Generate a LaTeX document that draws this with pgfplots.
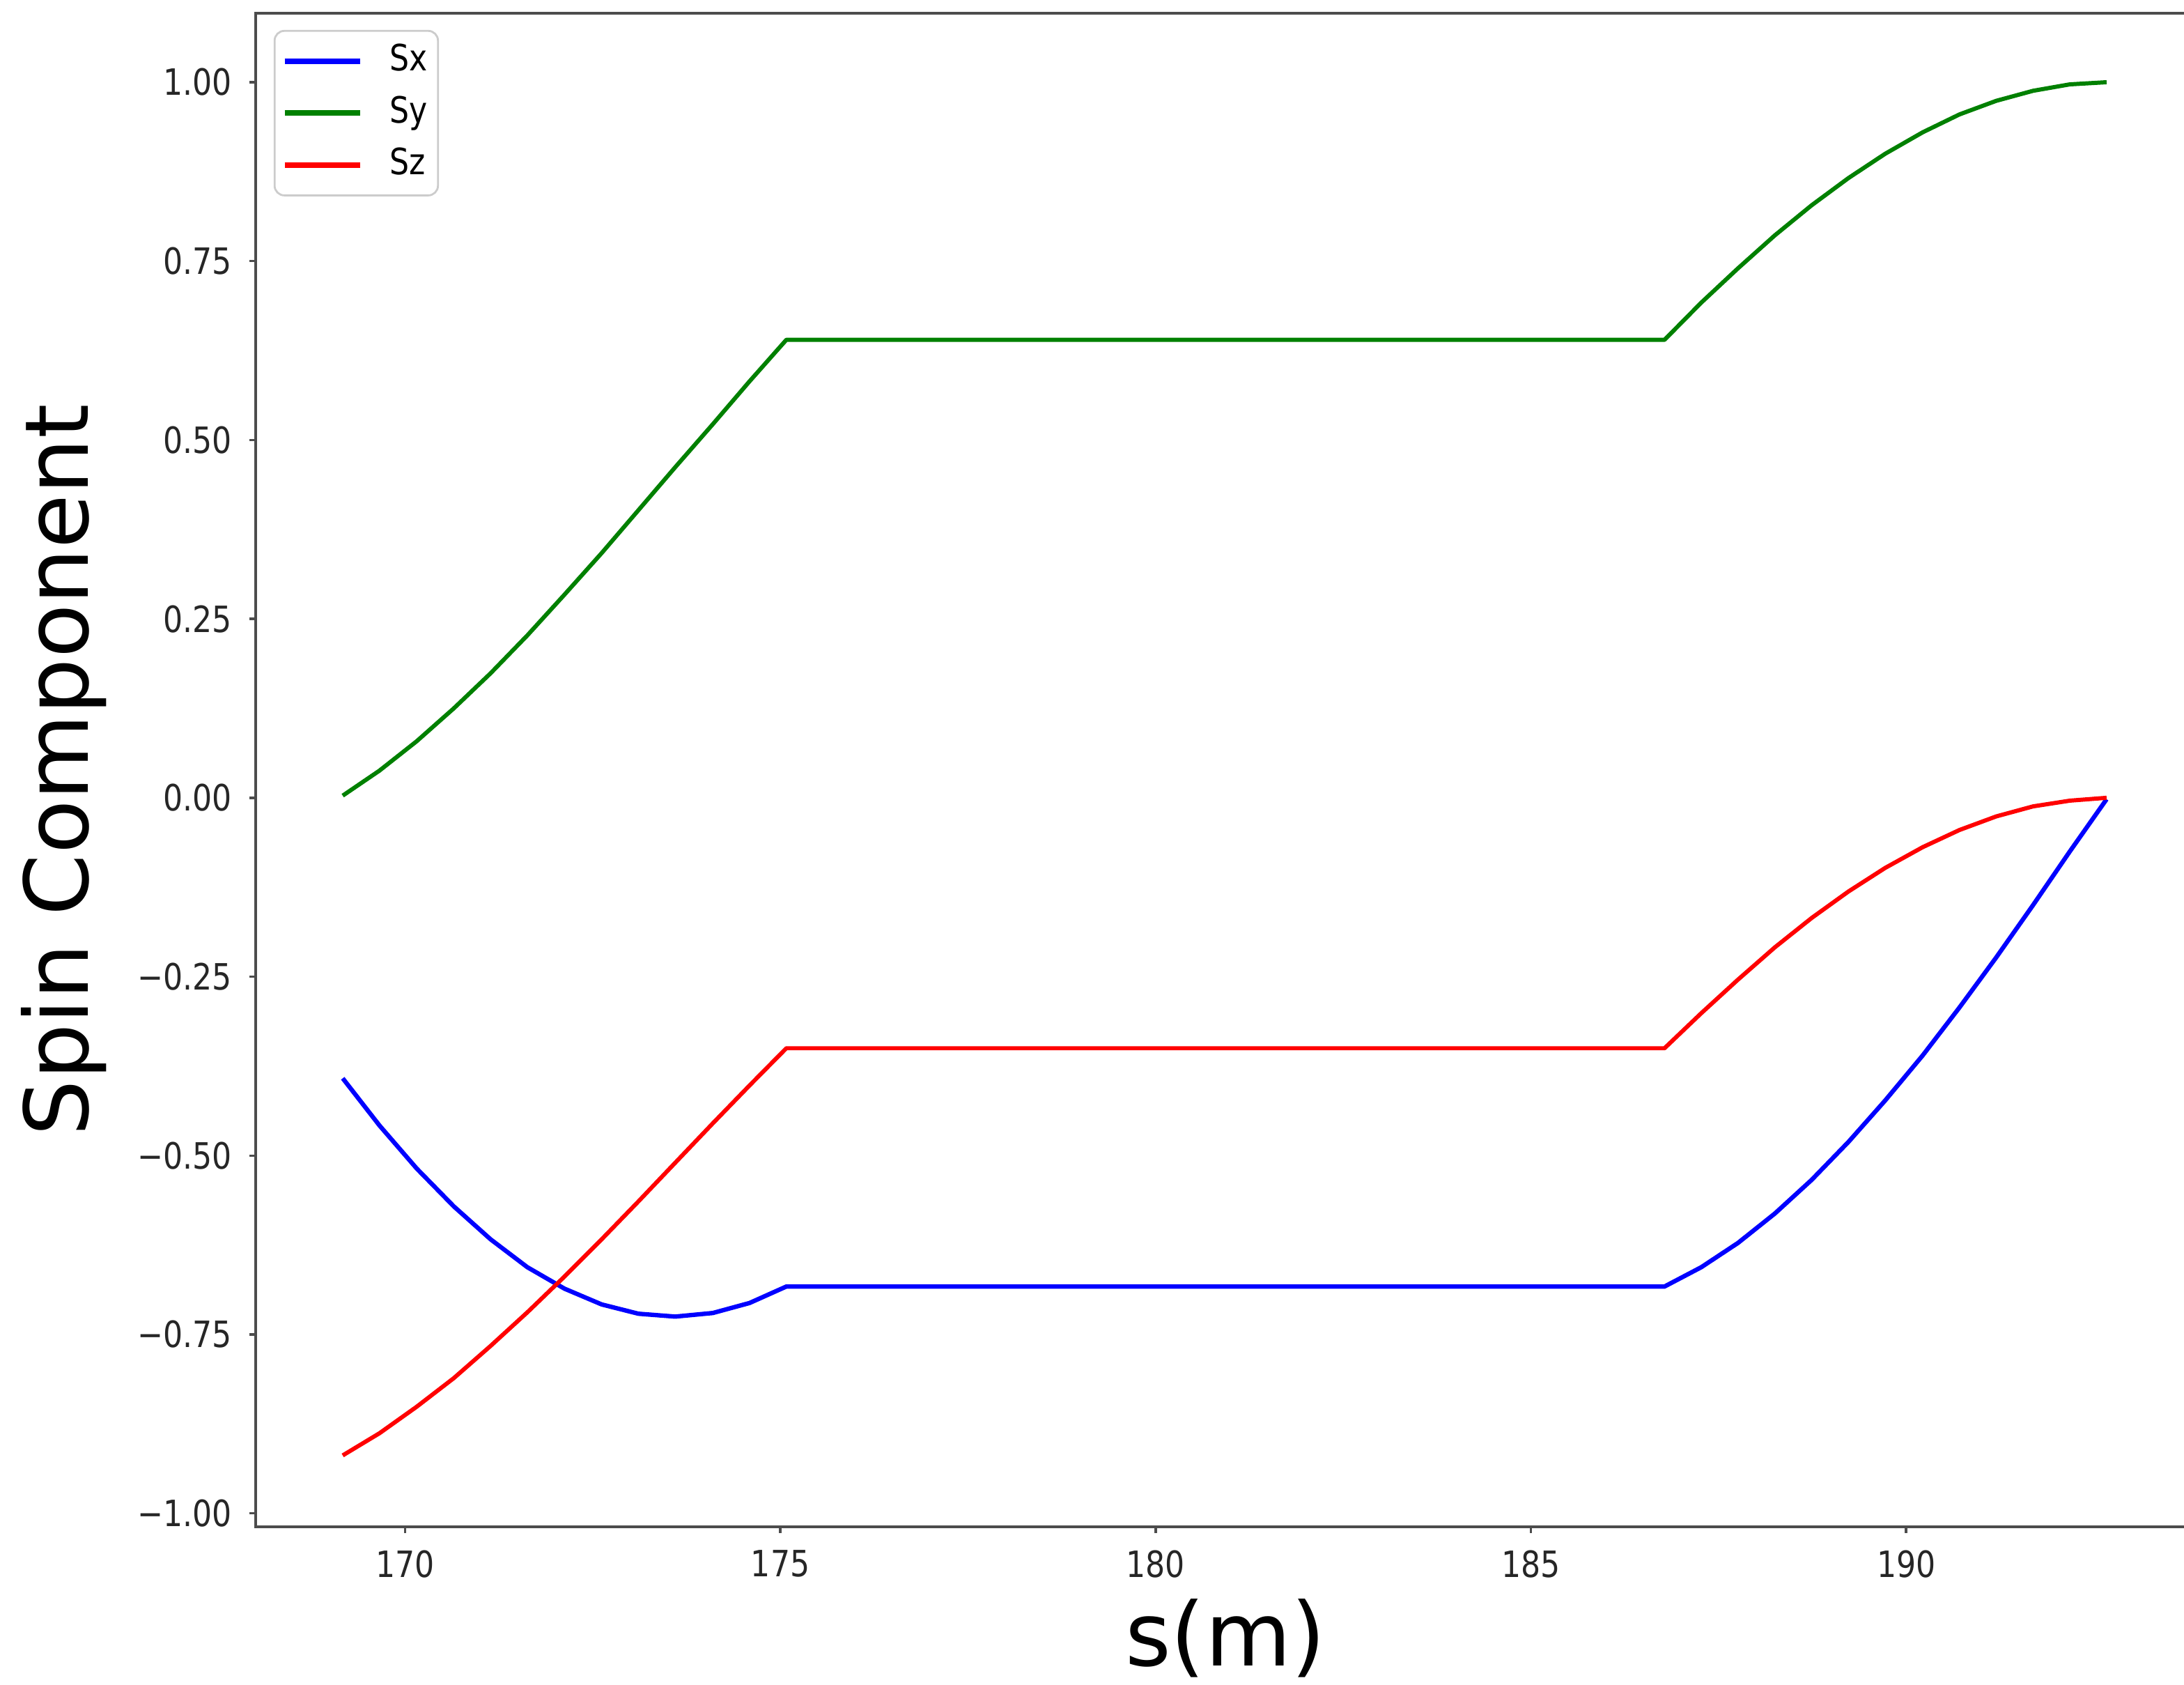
\documentclass[border=0pt]{standalone}
\usepackage{pgfplots}
\pgfplotsset{compat=1.18}
\usepackage{fontspec}
\setmainfont{DejaVu Sans}
\usepackage{graphicx}
\newcommand{\tl}[1]{\scalebox{0.85}[1]{#1}}
\definecolor{mgreen}{rgb}{0,0.5,0}
\begin{document}
\begin{tikzpicture}
\begin{axis}[
  scale only axis, width=13.925cm, height=10.863cm,
  xmin=168.009, xmax=193.85, ymin=-1.0187, ymax=1.0964,
  axis line style={black!70, line width=0.5pt},
  tick style={black!70, line width=0.5pt},
  tick align=outside, major tick length=1.3pt,
  xtick pos=lower, ytick pos=left,
  xtick={170,175,180,185,190},
  xticklabels={\tl{170},\tl{175},\tl{180},\tl{185},\tl{190}},
  ytick={-1,-0.75,-0.5,-0.25,0,0.25,0.5,0.75,1},
  yticklabels={\tl{−1.00},\tl{−0.75},\tl{−0.50},\tl{−0.25},\tl{0.00},\tl{0.25},\tl{0.50},\tl{0.75},\tl{1.00}},
  ticklabel style={font=\fontsize{7.4}{9}\selectfont, text=black!85},
  xlabel={s(m)}, ylabel={Spin Component},
  label style={font=\fontsize{18}{21}\selectfont},
  xlabel style={at={(axis description cs:0.5,-0.0921)}, anchor=base},
  ylabel style={at={(axis description cs:-0.0865,0.5)}, anchor=base},
  legend style={at={(axis description cs:0.0093,0.989)}, anchor=north west,
    draw=black!20, rounded corners=2pt, fill=white,
    font=\fontsize{7.4}{9}\selectfont, inner xsep=1.5pt, inner ysep=2pt,
    row sep=2.2pt, nodes={inner sep=0.6pt, text height=5.6pt, text depth=1.6pt},
    /tikz/every odd column/.append style={column sep=5pt}},
  legend image code/.code={\draw[#1, line width=1.1pt] (0cm,0cm) -- (0.54cm,0cm);},
  legend cell align=left,
]
\addplot[blue, line width=0.9pt, line join=round] coordinates {
(169.17,-0.392) (169.66,-0.458) (170.155,-0.518) (170.65,-0.571) (171.14,-0.617)
(171.63,-0.656) (172.125,-0.686) (172.62,-0.708) (173.11,-0.721) (173.60,-0.725)
(174.10,-0.720) (174.59,-0.706) (175.08,-0.683)
(186.78,-0.683) (187.27,-0.656) (187.76,-0.622) (188.25,-0.581) (188.74,-0.534)
(189.23,-0.481) (189.72,-0.423) (190.22,-0.360) (190.71,-0.293) (191.20,-0.223)
(191.69,-0.150) (192.18,-0.075) (192.67,-0.002)
};
\addlegendentry{\tl{Sx}}
\addplot[mgreen, line width=0.85pt, line join=round] coordinates {
(169.17,0.003) (169.66,0.038) (170.155,0.079) (170.65,0.125) (171.14,0.174)
(171.63,0.227) (172.125,0.284) (172.62,0.342) (173.11,0.402) (173.60,0.462)
(174.10,0.522) (174.59,0.582) (175.08,0.640)
(186.78,0.640) (187.27,0.692) (187.76,0.740) (188.25,0.786) (188.74,0.828)
(189.23,0.866) (189.72,0.900) (190.22,0.930) (190.71,0.955) (191.20,0.974)
(191.69,0.988) (192.18,0.997) (192.67,1.000)
};
\addlegendentry{\tl{Sy}}
\addplot[red, line width=0.85pt, line join=round] coordinates {
(169.17,-0.919) (169.66,-0.888) (170.155,-0.851) (170.65,-0.811) (171.14,-0.766)
(171.63,-0.719) (172.125,-0.669) (172.62,-0.617) (173.11,-0.564) (173.60,-0.510)
(174.10,-0.455) (174.59,-0.402) (175.08,-0.350)
(186.78,-0.350) (187.27,-0.301) (187.76,-0.254) (188.25,-0.209) (188.74,-0.168)
(189.23,-0.131) (189.72,-0.098) (190.22,-0.069) (190.71,-0.045) (191.20,-0.026)
(191.69,-0.012) (192.18,-0.004) (192.67,0.000)
};
\addlegendentry{\tl{Sz}}
\end{axis}
\pgfresetboundingbox
\useasboundingbox (-1.835cm,-1.132cm) rectangle (13.845cm,10.958cm);
\end{tikzpicture}
\end{document}
